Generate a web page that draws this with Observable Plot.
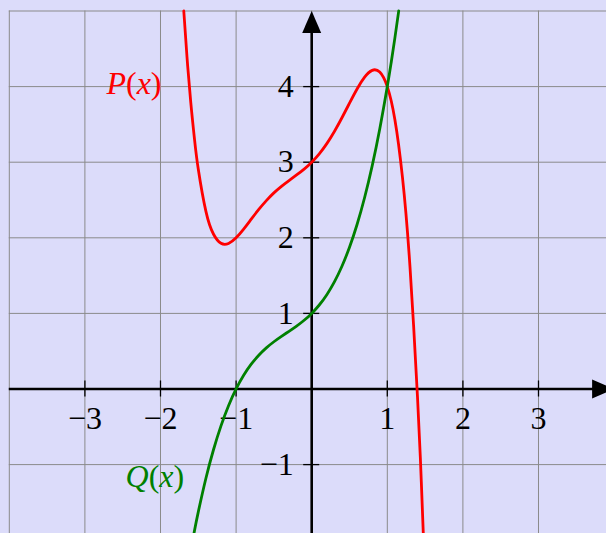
<!DOCTYPE html>
<html>
<head>
<meta charset="utf-8">
<script src="https://cdn.jsdelivr.net/npm/d3@7"></script>
<script src="https://cdn.jsdelivr.net/npm/@observablehq/plot@0.6"></script>
<style>
  html, body { margin: 0; padding: 0; background: #dcdcfa; }
  #chart svg { display: block; }
</style>
</head>
<body>
<div id="chart"></div>
<script>
// Sampled values of the two polynomials
const pX = [-1.692, -1.65, -1.6, -1.55, -1.5, -1.4, -1.3, -1.2, -1.1, -1.0, -0.9, -0.8, -0.7, -0.6, -0.5, -0.4, -0.3, -0.2, -0.1, 0, 0.1, 0.2, 0.3, 0.4, 0.5, 0.6, 0.7, 0.8, 0.9, 1.0, 1.1, 1.2, 1.3, 1.4, 1.45, 1.5];
const pY = [5.0, 4.398, 3.796, 3.303, 2.906, 2.353, 2.050, 1.927, 1.925, 2.0, 2.115, 2.246, 2.375, 2.492, 2.594, 2.681, 2.757, 2.831, 2.909, 3.0, 3.111, 3.246, 3.406, 3.588, 3.781, 3.969, 4.125, 4.215, 4.192, 4.0, 3.566, 2.806, 1.618, -0.116, -1.229, -2.531];

const qX = [-1.6, -1.55, -1.5, -1.4, -1.3, -1.2, -1.1, -1.0, -0.9, -0.8, -0.7, -0.6, -0.5, -0.4, -0.3, -0.2, -0.1, 0, 0.1, 0.2, 0.3, 0.4, 0.5, 0.6, 0.7, 0.8, 0.9, 1.0, 1.05, 1.1, 1.151];
const qY = [-2.136, -1.871, -1.625, -1.184, -0.807, -0.488, -0.221, 0, 0.181, 0.328, 0.447, 0.544, 0.625, 0.696, 0.763, 0.832, 0.909, 1.0, 1.111, 1.248, 1.417, 1.624, 1.875, 2.176, 2.533, 2.952, 3.439, 4.0, 4.310, 4.641, 5.0];

// Axes, grid and labels
const gridX = [-4, -3, -2, -1, 0, 1, 2, 3, 4];
const gridY = [-2, -1, 0, 1, 2, 3, 4, 5];
const xTicks = [-3, -2, -1, 1, 2, 3];
const xTickLabels = ["−3", "−2", "−1", "1", "2", "3"];
const yTicks = [-1, 1, 2, 3, 4];
const yTickLabels = ["−1", "1", "2", "3", "4"];
const curveLabels = [
  {name: "P(x)", x: -2, y: 4, color: "red"},
  {name: "Q(x)", x: -1.7, y: -1.2, color: "green"}
];
const axisEnds = [{x: 4, y: 0, rotate: 90}, {x: 0, y: 5, rotate: 0}];

const pData = pX.map((x, i) => ({x, y: pY[i]}));
const qData = qX.map((x, i) => ({x, y: qY[i]}));

// Filled arrowhead, tip at the origin, pointing up
const arrowHead = {
  draw(ctx) {
    ctx.moveTo(0, 0);
    ctx.lineTo(-9.5, 22);
    ctx.lineTo(9.5, 22);
    ctx.closePath();
  }
};

const serif = "'Liberation Serif', 'DejaVu Serif', serif";

const chart = Plot.plot({
  width: 606,
  height: 533,
  margin: 0,
  x: {domain: [-4.1164, 3.8995], axis: null},
  y: {domain: [-1.9114, 5.1389], axis: null},
  style: {background: "#dcdcfa", fontFamily: serif},
  marks: [
    Plot.ruleX(gridX, {x: d => d, y1: -2, y2: 5, stroke: "#8a8a8a", strokeWidth: 1}),
    Plot.ruleY(gridY, {y: d => d, x1: -4, x2: 4, stroke: "#8a8a8a", strokeWidth: 1}),
    Plot.ruleY([0], {x1: -4, x2: 3.8, stroke: "black", strokeWidth: 2.6}),
    Plot.ruleX([0], {y1: -2, y2: 4.8, stroke: "black", strokeWidth: 2.6}),
    Plot.dot(axisEnds, {x: "x", y: "y", rotate: "rotate", symbol: arrowHead, fill: "black", stroke: null}),
    Plot.ruleX(xTicks, {x: d => d, y1: -0.106, y2: 0.106, stroke: "black", strokeWidth: 1.3}),
    Plot.ruleY(yTicks, {y: d => d, x1: -0.106, x2: 0.106, stroke: "black", strokeWidth: 1.3}),
    Plot.text(xTicks, {x: d => d, y: 0, text: (d, i) => xTickLabels[i], dy: 30, fontSize: 32, fill: "black"}),
    Plot.text(yTicks, {x: 0, y: d => d, text: (d, i) => yTickLabels[i], dx: -18, textAnchor: "end", fontSize: 32, fill: "black"}),
    Plot.line(pData, {x: "x", y: "y", stroke: "red", strokeWidth: 2.8, curve: "natural", clip: true}),
    Plot.line(qData, {x: "x", y: "y", stroke: "green", strokeWidth: 2.8, curve: "natural", clip: true}),
    Plot.text(curveLabels, {x: "x", y: "y", text: "name", fill: "color", textAnchor: "end", dx: 1, dy: -3, fontSize: 32})
  ]
});

// Math-style labels: italic letters, upright parentheses
const names = new Set(curveLabels.map(d => d.name));
d3.select(chart).selectAll("text")
  .filter(function () { return names.has(this.textContent); })
  .each(function () {
    const s = this.textContent;
    const t = d3.select(this);
    t.text(null);
    for (const ch of s) {
      t.append("tspan")
        .attr("font-style", /[A-Za-z]/.test(ch) ? "italic" : "normal")
        .text(ch);
    }
  });

document.getElementById("chart").appendChild(chart);
</script>
</body>
</html>
